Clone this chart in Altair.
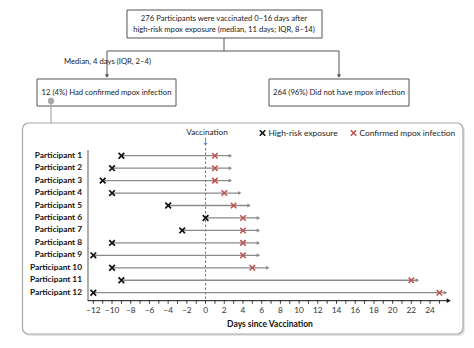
import altair as alt
import pandas as pd

# ---------------- data ----------------
participants = [f"Participant {i}" for i in range(1, 13)]
exposure_day = [-9, -10, -11, -10, -4, 0, -2.5, -10, -12, -10, -9, -12]
infection_day = [1, 1, 1, 2, 3, 4, 4, 4, 4, 5, 22, 25]
followup_end = [3, 3, 3, 4, 5, 6, 6, 6, 6, 7, 23, 26]
tick_days = list(range(-12, 26))
label_days = list(range(-12, 25, 2))

top_box_lines = ["276 Participants were vaccinated 0\u201316 days after",
                 "high-risk mpox exposure (median, 11 days; IQR, 8\u201314)"]
left_box_text = "12 (4%) Had confirmed mpox infection"
right_box_text = "264 (96%) Did not have mpox infection"
median_text = "Median, 4 days (IQR, 2\u20134)"
legend_vacc = "Vaccination"
legend_exp = "High-risk exposure"
legend_inf = "Confirmed mpox infection"
axis_title = "Days since Vaccination"

# ---------------- style ----------------
FONT = "Lato"
GRAY = "#8a8a8a"
BOX = "#555555"
RED = "#c0504d"
BLUE = "#5b87c5"
XPATH = "M-1,-1L1,1M-1,1L1,-1"

df = pd.DataFrame({"p": participants, "exp": exposure_day,
                   "inf": infection_day, "end": followup_end})
df["arrow"] = df["end"] - 0.35
ticks = pd.DataFrame({"d": tick_days})
labels = pd.DataFrame({"d": label_days,
                       "t": [str(v).replace("-", "\u2212") for v in label_days]})
one = pd.DataFrame({"k": [0]})

X = alt.Scale(domain=[-21.98, 28.70], range=[0, 474], nice=False, zero=False)
Y = alt.Scale(type="point", domain=participants, range=[155.7, 292.7], padding=0)

def xq(field):
    return alt.X(f"{field}:Q", scale=X, axis=None)

def yp():
    return alt.Y("p:N", scale=Y, axis=None)

def vtext(text, x, y, **kw):
    base = dict(font=FONT, fontSize=7.7, color="#222")
    base.update(kw)
    return alt.Chart(pd.DataFrame({"t": [text]})).mark_text(**base).encode(
        x=alt.value(x), y=alt.value(y), text="t:N")

def vrect(x, x2, y, y2, **kw):
    return alt.Chart(one).mark_rect(**kw).encode(
        x=alt.value(x), x2=alt.value(x2), y=alt.value(y), y2=alt.value(y2))

def vrule(x, x2, y, y2, **kw):
    return alt.Chart(one).mark_rule(**kw).encode(
        x=alt.value(x), x2=alt.value(x2), y=alt.value(y), y2=alt.value(y2))

def vpoint(x, y, **kw):
    return alt.Chart(one).mark_point(**kw).encode(x=alt.value(x), y=alt.value(y))

layers = []

# ---------- flowchart ----------
layers.append(vrect(127, 322, 10, 38, fill="white", stroke=BOX, strokeWidth=1))
layers.append(vtext(top_box_lines[0], 224, 19))
layers.append(vtext(top_box_lines[1], 224, 29.5))
layers.append(vrule(224, 224, 38, 51, color=BOX, strokeWidth=1))
layers.append(vrule(107, 339, 51, 51, color=BOX, strokeWidth=1))
layers.append(vrule(107, 107, 51, 77, color=BOX, strokeWidth=1))
layers.append(vrule(339, 339, 51, 77, color=BOX, strokeWidth=1))
layers.append(vpoint(107, 76, shape="triangle-down", filled=True, size=18, color=BOX, opacity=1))
layers.append(vpoint(339, 76, shape="triangle-down", filled=True, size=18, color=BOX, opacity=1))
layers.append(vtext(median_text, 107.5, 61.5))
layers.append(vrect(37, 176, 79, 106, fill="white", stroke=BOX, strokeWidth=1))
layers.append(vrect(269, 409, 79, 106, fill="white", stroke=BOX, strokeWidth=1))
layers.append(vtext(left_box_text, 106.5, 92.5))
layers.append(vtext(right_box_text, 339, 92.5))

# ---------- panel ----------
layers.append(vrect(24, 465, 125, 336, fill="#e4e4e4", stroke=None, cornerRadius=6))
layers.append(vrect(22.5, 463, 123, 334, fill="white", stroke="#a8a8a8", strokeWidth=1.2, cornerRadius=6))
layers.append(vrule(51, 51, 101, 123, color="#a8a8a8", strokeWidth=1.2))
layers.append(vpoint(51, 101, shape="circle", filled=True, size=40, color="#a8a8a8", opacity=1))

# ---------- legend ----------
layers.append(vtext(legend_vacc, 207, 133, fontSize=8.2))
layers.append(vpoint(262.5, 133, shape=XPATH, filled=False, size=30, strokeWidth=1.7, color="#111", opacity=1))
layers.append(vtext(legend_exp, 268.5, 133, align="left", fontSize=8.4))
layers.append(vpoint(353.5, 133, shape=XPATH, filled=False, size=30, strokeWidth=1.5, color=RED, opacity=1))
layers.append(vtext(legend_inf, 359.5, 133, align="left", fontSize=8.4))

zero = pd.DataFrame({"d": [0]})
layers.append(alt.Chart(zero).mark_rule(color=BLUE, strokeWidth=1).encode(
    x=xq("d"), y=alt.value(137.5), y2=alt.value(144)))
layers.append(alt.Chart(zero).mark_point(shape="triangle-down", filled=True, size=14,
                                         color=BLUE, opacity=1).encode(
    x=xq("d"), y=alt.value(144.5)))
layers.append(alt.Chart(zero).mark_rule(color="#777", strokeWidth=1, strokeDash=[2.5, 2]).encode(
    x=xq("d"), y=alt.value(148), y2=alt.value(300.7)))

# ---------- y axis line & labels ----------
layers.append(vrule(88, 88, 150, 301, color="#999", strokeWidth=1.6))
layers.append(alt.Chart(df).mark_text(font=FONT, fontSize=8.3, fontWeight="bold",
                                      align="right", color="#111").encode(
    x=alt.value(82), y=yp(), text="p:N"))

# ---------- participant timelines ----------
layers.append(alt.Chart(df).mark_rule(color=GRAY, strokeWidth=1.3).encode(
    x=xq("exp"), x2="arrow:Q", y=yp()))
layers.append(alt.Chart(df).mark_point(shape="triangle-right", filled=True, size=16,
                                       color=GRAY, opacity=1).encode(
    x=xq("arrow"), y=yp()))
layers.append(alt.Chart(df).mark_point(shape=XPATH, filled=False, size=32, strokeWidth=1.7,
                                       color="#111", opacity=1).encode(
    x=xq("exp"), y=yp()))
layers.append(alt.Chart(df).mark_point(shape=XPATH, filled=False, size=30, strokeWidth=1.5,
                                       color=RED, opacity=1).encode(
    x=xq("inf"), y=yp()))

# ---------- x axis ----------
axis_line = pd.DataFrame({"a": [-12.6], "b": [26.0]})
layers.append(alt.Chart(axis_line).mark_rule(color="#111", strokeWidth=1).encode(
    x=xq("a"), x2="b:Q", y=alt.value(300.7)))
layers.append(alt.Chart(axis_line).mark_point(shape="triangle-right", filled=True, size=22,
                                              color="#111", opacity=1).encode(
    x=xq("b"), y=alt.value(300.7)))
layers.append(alt.Chart(ticks).mark_rule(color="#111", strokeWidth=0.8).encode(
    x=xq("d"), y=alt.value(300.7), y2=alt.value(303.8)))
layers.append(alt.Chart(labels).mark_text(font=FONT, fontSize=8.3, color="#333").encode(
    x=xq("d"), y=alt.value(310.5), text="t:N"))
layers.append(vtext(axis_title, 270, 324, fontWeight="bold", fontSize=8.5, color="#111"))

chart = alt.layer(*layers).properties(
    width=474, height=348,
    autosize=alt.AutoSizeParams(type="none"),
    padding=0,
    background="white",
).configure_view(stroke=None)

chart.save("out.html", embed_options={"renderer": "svg", "actions": False})
